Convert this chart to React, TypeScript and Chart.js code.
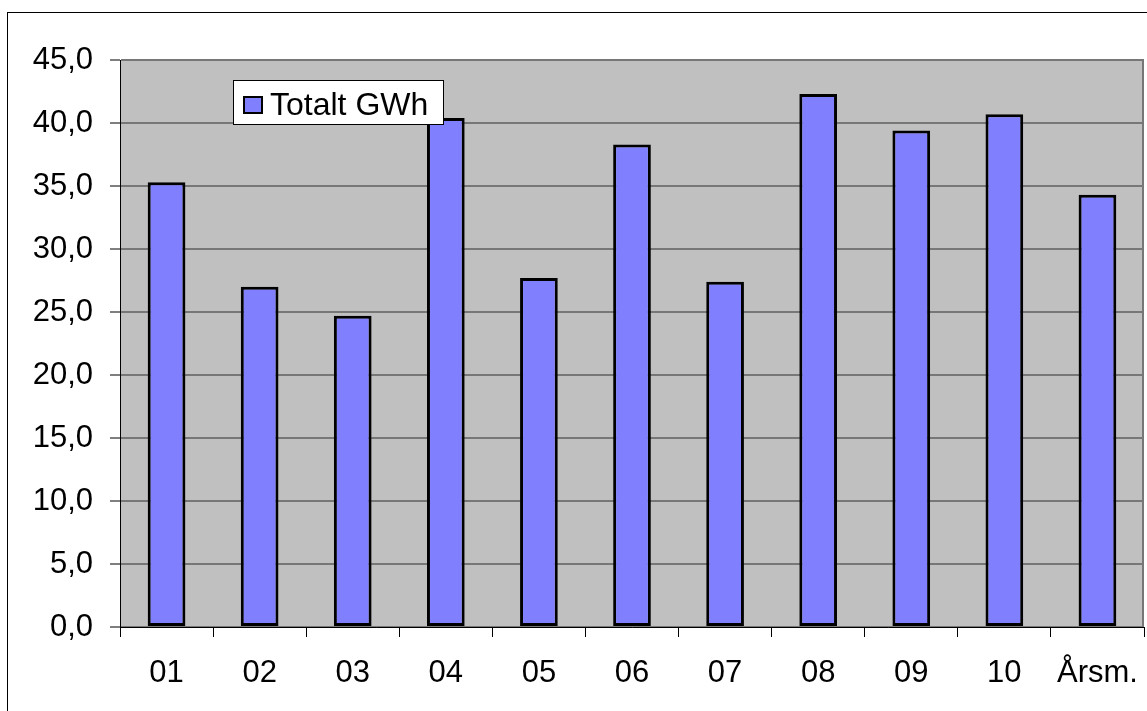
import React, { useEffect, useRef } from 'react';
import { Chart, registerables } from 'chart.js';

Chart.register(...registerables);

const categories = ['01', '02', '03', '04', '05', '06', '07', '08', '09', '10', 'Årsm.'];
const totals = [35.3, 27.0, 24.7, 40.4, 27.7, 38.3, 27.4, 42.3, 39.4, 40.7, 34.3];
const seriesLabel = 'Totalt GWh';
const yMin = 0;
const yMax = 45;
const yStep = 5;

const FONT = "'Liberation Sans', Arial, Helvetica, sans-serif";
const BAR_COLOR = '#8080FF';
const GRID_COLOR = '#777777';

const framePlugin = {
  id: 'frame',
  beforeDraw(chart: any) {
    const { ctx, chartArea } = chart;
    const { left, top, right, bottom } = chartArea;
    ctx.save();
    ctx.fillStyle = '#ffffff';
    ctx.fillRect(0, 0, chart.width, chart.height);
    ctx.fillStyle = '#C0C0C0';
    ctx.fillRect(left, top, right - left, bottom - top);
    ctx.strokeStyle = GRID_COLOR;
    ctx.lineWidth = 2;
    ctx.beginPath();
    ctx.moveTo(right - 1, top);
    ctx.lineTo(right - 1, bottom);
    ctx.stroke();
    ctx.strokeStyle = '#000000';
    ctx.lineWidth = 1;
    ctx.strokeRect(7.5, 12.5, 1200, 730);
    ctx.restore();
  },
  afterDraw(chart: any) {
    const { ctx } = chart;
    const ds = chart.data.datasets[0];
    ctx.save();
    ctx.fillStyle = '#ffffff';
    ctx.fillRect(233.5, 80.5, 210, 44);
    ctx.strokeStyle = '#000000';
    ctx.lineWidth = 1;
    ctx.strokeRect(233.5, 80.5, 210, 44);
    ctx.fillStyle = ds.backgroundColor;
    ctx.fillRect(244, 97, 18, 16);
    ctx.lineWidth = 2;
    ctx.strokeRect(244, 97, 18, 16);
    ctx.fillStyle = '#000000';
    ctx.font = `32px ${FONT}`;
    ctx.textBaseline = 'alphabetic';
    ctx.textAlign = 'left';
    ctx.fillText(ds.label, 270, 115);
    ctx.restore();
  },
};

export default function App() {
  const ref = useRef<HTMLCanvasElement | null>(null);

  useEffect(() => {
    if (!ref.current) return;
    const chart = new Chart(ref.current, {
      type: 'bar',
      data: {
        labels: categories,
        datasets: [
          {
            label: seriesLabel,
            data: totals,
            backgroundColor: BAR_COLOR,
            borderColor: '#000000',
            borderWidth: 3,
            borderSkipped: false,
            categoryPercentage: 1,
            barPercentage: 0.405,
          },
        ],
      },
      options: {
        responsive: false,
        animation: false,
        devicePixelRatio: 1,
        layout: { padding: { top: 60, right: 3, left: 0, bottom: 0 } },
        plugins: {
          legend: { display: false },
          tooltip: { enabled: false },
        },
        scales: {
          x: {
            type: 'category',
            offset: true,
            grid: {
              display: true,
              drawOnChartArea: false,
              drawTicks: true,
              tickLength: 10,
              tickColor: '#000000',
              offset: true,
            },
            border: { display: true, color: '#000000', width: 1 },
            ticks: {
              color: '#000000',
              font: { family: FONT, size: 31 },
              padding: 18,
              maxRotation: 0,
              autoSkip: false,
            },
            afterFit(scale: any) {
              scale.height = 84;
              scale.paddingLeft = 0;
              scale.paddingRight = 0;
            },
          },
          y: {
            min: yMin,
            max: yMax,
            grid: {
              color: GRID_COLOR,
              lineWidth: 2,
              tickLength: 10,
              tickColor: '#000000',
              tickWidth: 1,
            },
            border: { display: true, color: '#000000', width: 1 },
            ticks: {
              stepSize: yStep,
              color: '#000000',
              font: { family: FONT, size: 31 },
              padding: 17,
              callback: (v: any) => Number(v).toFixed(1).replace('.', ','),
            },
            afterFit(scale: any) {
              scale.width = 120;
              scale.paddingTop = 0;
              scale.paddingBottom = 0;
            },
          },
        },
      },
      plugins: [framePlugin],
    });
    return () => chart.destroy();
  }, []);

  return (
    <div style={{ position: 'fixed', left: 0, top: 0, width: 1147, height: 711, background: '#fff' }}>
      <canvas ref={ref} width={1147} height={711} style={{ display: 'block' }} />
    </div>
  );
}
